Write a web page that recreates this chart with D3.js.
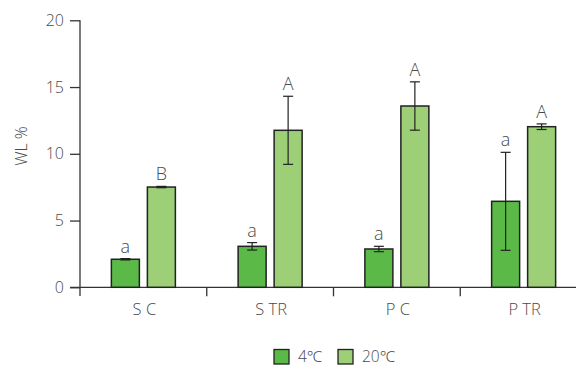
<!DOCTYPE html>
<html>
<head>
<meta charset="utf-8">
<script src="https://cdn.jsdelivr.net/npm/d3@7"></script>
<style>
  html, body { margin: 0; padding: 0; background: #fff; }
  svg text { font-family: "Open Sans", "Noto Sans", sans-serif; fill: #4a4a4a; }
</style>
</head>
<body>
<svg id="chart" width="576" height="367"></svg>
<script>
// Water loss (WL %) per treatment at two temperatures
const categories = ["S C", "S TR", "P C", "P TR"];
const seriesNames = ["4℃", "20℃"];
const values4 = [2.1, 3.07, 2.87, 6.44];
const errors4 = [0.05, 0.28, 0.2, 3.67];
const letters4 = ["a", "a", "a", "a"];
const values20 = [7.51, 11.76, 13.58, 12.03];
const errors20 = [0.05, 2.55, 1.81, 0.21];
const letters20 = ["B", "A", "A", "A"];
const yTicks = [0, 5, 10, 15, 20];
const colors = ["#5ab947", "#9dcf77"];

const svg = d3.select("#chart");

const x = d3.scaleBand().domain(categories).range([80, 587]).padding(0);
const y = d3.scaleLinear().domain([0, 20]).range([287.3, 20.3]);
const sub = d3.scaleBand().domain(seriesNames).range([0, 64]).paddingInner(8 / 36);

const data = categories.map((c, i) => ({
  cat: c,
  bars: [
    { s: seriesNames[0], v: values4[i], e: errors4[i], l: letters4[i] },
    { s: seriesNames[1], v: values20[i], e: errors20[i], l: letters20[i] }
  ]
}));

// y axis
const yAxis = svg.append("g")
  .attr("transform", "translate(80,0)")
  .call(d3.axisLeft(y).tickValues(yTicks).tickSize(10).tickPadding(6).tickFormat(d3.format("d")));
yAxis.select(".domain").attr("d", `M0,${y(20)}V296`);
yAxis.selectAll("path, line").attr("stroke", "#333").attr("stroke-width", 1.3);
yAxis.selectAll("text").attr("font-size", 16).attr("fill", "#4a4a4a").style("font-weight", 300);

// x axis with ticks between categories
const xAxis = svg.append("g").attr("transform", `translate(0,${y(0)})`);
xAxis.append("line").attr("x1", 70).attr("x2", 587).attr("stroke", "#333").attr("stroke-width", 1.3);
const bounds = categories.slice(1).map(c => x(c));
xAxis.selectAll("line.tk").data(bounds).join("line").attr("class", "tk")
  .attr("x1", d => d).attr("x2", d => d).attr("y1", 0).attr("y2", 9)
  .attr("stroke", "#333").attr("stroke-width", 1.3);
xAxis.selectAll("text").data(categories).join("text")
  .attr("x", d => x(d) + x.bandwidth() / 2 + 1)
  .attr("y", 27.5)
  .attr("text-anchor", "middle")
  .attr("font-size", 16.5)
  .style("font-weight", 300)
  .text(d => d);

// y label
svg.append("text")
  .attr("transform", `translate(27,146) rotate(-90)`)
  .attr("text-anchor", "middle")
  .attr("font-size", 16)
  .style("font-weight", 300)
  .text("WL %");

// bars
const groups = svg.append("g").selectAll("g").data(data).join("g")
  .attr("transform", d => `translate(${x(d.cat) + x.bandwidth() / 2 - 32},0)`);

groups.selectAll("rect").data(d => d.bars).join("rect")
  .attr("x", d => sub(d.s))
  .attr("width", sub.bandwidth())
  .attr("y", d => y(d.v))
  .attr("height", d => y(0) - y(d.v))
  .attr("fill", (d, i) => colors[i])
  .attr("stroke", "#222")
  .attr("stroke-width", 1.5);

// error bars
const eb = groups.selectAll("g.err").data(d => d.bars).join("g").attr("class", "err")
  .attr("transform", d => `translate(${sub(d.s) + sub.bandwidth() / 2},0)`);
eb.append("line").attr("y1", d => y(d.v + d.e)).attr("y2", d => y(d.v - d.e))
  .attr("stroke", "#222").attr("stroke-width", 1.2);
eb.append("line").attr("x1", -5).attr("x2", 5).attr("y1", d => y(d.v + d.e)).attr("y2", d => y(d.v + d.e))
  .attr("stroke", "#222").attr("stroke-width", 1.2);
eb.append("line").attr("x1", -5).attr("x2", 5).attr("y1", d => y(d.v - d.e)).attr("y2", d => y(d.v - d.e))
  .attr("stroke", "#222").attr("stroke-width", 1.2);
eb.append("text")
  .attr("y", d => y(d.v + d.e) - 6)
  .attr("text-anchor", "middle")
  .attr("font-size", 18)
  .style("font-weight", 300)
  .text(d => d.l);

// legend
const legend = svg.append("g").attr("transform", "translate(274,349.5)");
const legendX = [0, 64];
const li = legend.selectAll("g").data(seriesNames).join("g")
  .attr("transform", (d, i) => `translate(${legendX[i]},0)`);
li.append("rect").attr("width", 15).attr("height", 14.5)
  .attr("fill", (d, i) => colors[i]).attr("stroke", "#222").attr("stroke-width", 1.3);
li.append("text").attr("x", 24).attr("y", 12.5).attr("font-size", 15.5)
  .style("font-weight", 300).text(d => d);
</script>
</body>
</html>
